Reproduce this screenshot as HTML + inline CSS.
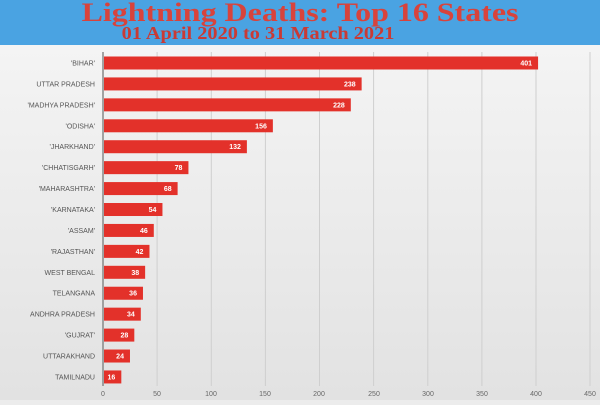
<!DOCTYPE html>
<html><head><style>
body{margin:0;width:600px;height:400px;overflow:hidden;background:#ececec;font-family:"Liberation Sans",sans-serif}
</style></head><body>
<svg width="600" height="400" xmlns="http://www.w3.org/2000/svg">
<defs><linearGradient id="g" x1="0" y1="0" x2="0" y2="1"><stop offset="0" stop-color="#f4f4f4"/><stop offset="1" stop-color="#e2e2e2"/></linearGradient></defs>
<rect x="0" y="44" width="600" height="356" fill="url(#g)"/>
<rect x="0" y="0" width="600" height="45" fill="#4aa3e2"/>
<g transform="translate(300,21) scale(1.23,1)"><text x="0" y="0" text-anchor="middle" font-family="Liberation Serif,serif" font-weight="bold" font-size="26" fill="#d8433c">Lightning Deaths: Top 16 States</text></g>
<g transform="translate(258,39) scale(1.13,1)"><text x="0" y="0" text-anchor="middle" font-family="Liberation Serif,serif" font-weight="bold" font-size="18" fill="#c93a35">01 April 2020 to 31 March 2021</text></g>
<g stroke="#cfcfcf" stroke-width="1">
<line x1="157.1" y1="52" x2="157.1" y2="386"/><line x1="211.3" y1="52" x2="211.3" y2="386"/><line x1="265.4" y1="52" x2="265.4" y2="386"/><line x1="319.5" y1="52" x2="319.5" y2="386"/><line x1="373.6" y1="52" x2="373.6" y2="386"/><line x1="427.8" y1="52" x2="427.8" y2="386"/><line x1="481.9" y1="52" x2="481.9" y2="386"/><line x1="536" y1="52" x2="536" y2="386"/><line x1="590" y1="52" x2="590" y2="386"/>
</g>
<line x1="103" y1="52" x2="103" y2="386" stroke="#888" stroke-width="1.5"/>
<g id="bars" font-size="7" fill="#555"></g>
<g font-size="7" fill="#666" text-anchor="middle">
<text x="103" y="396">0</text><text x="157" y="396">50</text><text x="211" y="396">100</text><text x="265" y="396">150</text><text x="319" y="396">200</text><text x="374" y="396">250</text><text x="428" y="396">300</text><text x="482" y="396">350</text><text x="536" y="396">400</text><text x="590" y="396">450</text>
</g>
</svg>
<script>
var d=[["'BIHAR'",401],["UTTAR PRADESH",238],["'MADHYA PRADESH'",228],["'ODISHA'",156],["'JHARKHAND'",132],["'CHHATISGARH'",78],["'MAHARASHTRA'",68],["'KARNATAKA'",54],["'ASSAM'",46],["'RAJASTHAN'",42],["WEST BENGAL",38],["TELANGANA",36],["ANDHRA PRADESH",34],["'GUJRAT'",28],["UTTARAKHAND",24],["TAMILNADU",16]];
var g=document.getElementById('bars'),s='';
d.forEach(function(r,i){var y=63+i*20.93,w=r[1]*1.0825;
s+='<rect x="104" y="'+(y-6.5)+'" width="'+w+'" height="13" fill="#e3312a"/>';
s+='<text x="95" y="'+(y+2.5)+'" text-anchor="end">'+r[0]+'</text>';
s+='<text x="'+(104+w-6)+'" y="'+(y+2.5)+'" text-anchor="end" fill="#fff" font-weight="bold">'+r[1]+'</text>';});
g.innerHTML=s;
</script>
</body></html>
